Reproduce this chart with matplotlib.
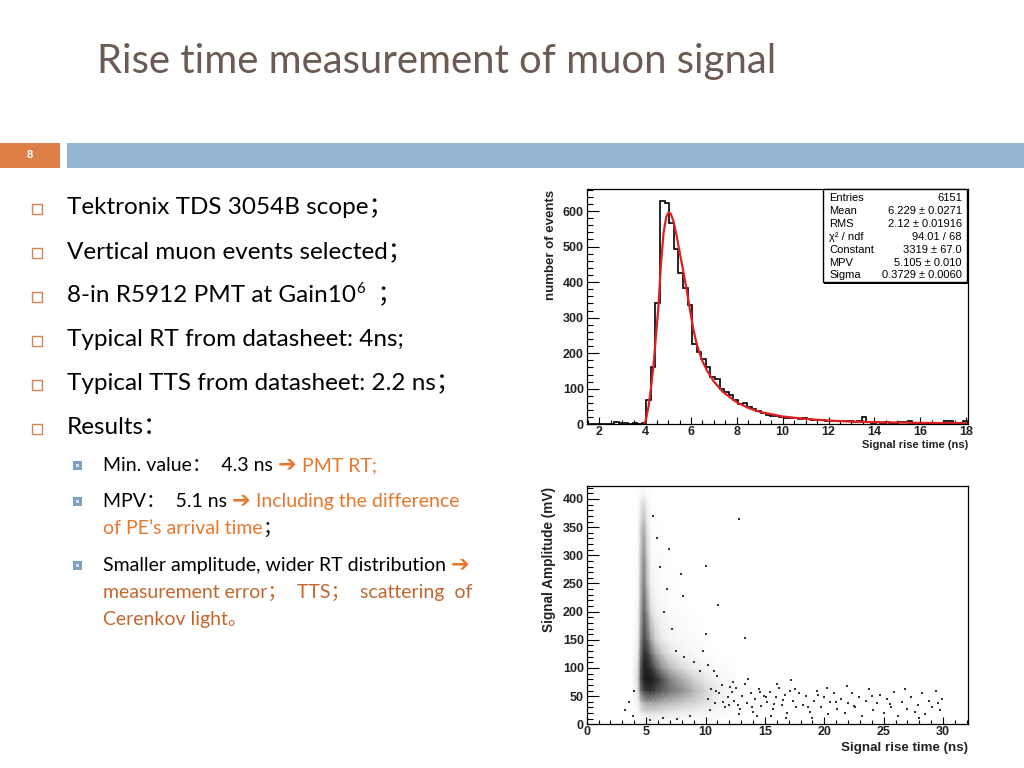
import numpy as np
import matplotlib
matplotlib.use("Agg")
import matplotlib.pyplot as plt
from matplotlib.patches import Rectangle
from matplotlib.ticker import MultipleLocator

# ---------------- data ----------------
# rise time histogram, 0.2 ns bins starting at 1.45 ns
BIN_LO = 1.45
BIN_W = 0.2
HIST_COUNTS = [
    0, 0, 0, 0, 0, 0,
    6, 5, 3, 2, 3, 2, 3,
    68, 162, 340, 628, 624, 565, 492, 425, 384, 336,
    227, 204, 185, 160, 132, 128, 99, 92, 82, 68,
    57, 60, 50, 42, 37, 33, 27, 24, 22, 21,
    19, 19, 17, 15, 19, 14, 12, 12, 11, 10,
    9, 9, 8, 8, 8, 7, 8, 20, 7, 5,
    6, 5, 6, 5, 4, 7, 6, 8, 4, 5,
    4, 3, 5, 4, 4, 10, 9, 3, 4, 8,
]

# Landau fit curve
FIT_X = [3.95, 4.03, 4.15, 4.26, 4.36, 4.48, 4.58, 4.68, 4.80, 4.92, 5.02, 5.12,
         5.24, 5.38, 5.53, 5.68, 5.82, 5.96, 6.10, 6.25, 6.47, 6.68, 7.00, 7.41,
         8.00, 8.50, 9.00, 10.0, 11.0, 12.0, 13.0, 14.0, 15.0, 16.0, 17.0, 18.0]
FIT_Y = [0, 12, 50, 106, 162, 256, 331, 443, 537, 584, 596, 592,
         570, 528, 475, 425, 375, 320, 268, 225, 182, 153, 120, 90,
         62, 46, 35, 22, 15, 10.5, 7.5, 6, 5, 4, 3.5, 3]

STATS = [
    ("Entries", "6151"),
    ("Mean", "6.229 \u00b1 0.0271"),
    ("RMS", "2.12 \u00b1 0.01916"),
    ("\u03c7\u00b2 / ndf", "94.01 / 68"),
    ("Constant", "3319 \u00b1 67.0"),
    ("MPV", "5.105 \u00b1 0.010"),
    ("Sigma", "0.3729 \u00b1 0.0060"),
]

# amplitude vs rise time: point density (0..1) on a coarse node grid
DENS_X = [3.8, 4.3, 4.55, 4.8, 5.1, 5.4, 5.8, 6.3, 7.0, 8.0, 9.0, 10.0, 11.0, 12.5]
DENS_Y = [0, 20, 40, 60, 80, 100, 125, 150, 200, 250, 300, 350, 400, 420]
DENSITY = [
    [0, 0, 0, 0, 0, 0, 0, 0, 0, 0, 0, 0, 0, 0],
    [0, 0.04, 0.12, 0.18, 0.2, 0.2, 0.2, 0.2, 0.16, 0.13, 0.1, 0.08, 0.05, 0],
    [0, 0.1, 0.35, 0.45, 0.5, 0.5, 0.5, 0.45, 0.42, 0.36, 0.3, 0.22, 0.12, 0.03],
    [0, 0.2, 0.65, 0.82, 0.87, 0.87, 0.82, 0.75, 0.65, 0.55, 0.42, 0.28, 0.15, 0.03],
    [0, 0.25, 0.78, 0.92, 0.96, 0.95, 0.9, 0.8, 0.6, 0.45, 0.3, 0.18, 0.08, 0.02],
    [0, 0.22, 0.75, 0.92, 0.93, 0.88, 0.75, 0.55, 0.4, 0.25, 0.15, 0.08, 0.03, 0],
    [0, 0.15, 0.65, 0.88, 0.86, 0.7, 0.5, 0.35, 0.2, 0.1, 0.06, 0.03, 0, 0],
    [0, 0.1, 0.55, 0.8, 0.72, 0.5, 0.3, 0.18, 0.1, 0.05, 0.03, 0, 0, 0],
    [0, 0.06, 0.45, 0.72, 0.52, 0.25, 0.12, 0.06, 0.03, 0.02, 0, 0, 0, 0],
    [0, 0.04, 0.4, 0.62, 0.38, 0.12, 0.05, 0.03, 0.02, 0, 0, 0, 0, 0],
    [0, 0.03, 0.35, 0.55, 0.3, 0.07, 0.03, 0.02, 0, 0, 0, 0, 0, 0],
    [0, 0.02, 0.3, 0.45, 0.2, 0.04, 0.02, 0, 0, 0, 0, 0, 0, 0],
    [0, 0, 0.1, 0.18, 0.06, 0, 0, 0, 0, 0, 0, 0, 0, 0],
    [0, 0, 0, 0, 0, 0, 0, 0, 0, 0, 0, 0, 0, 0],
]

# individual sparse events (tail and outliers)
SPARSE_X = [10.2, 10.5, 10.8, 11.1, 11.4, 11.6, 11.9, 12.2, 10.4, 11.0, 12.0, 10.7,
            12.4, 12.6, 12.9, 13.1, 13.3, 13.5, 13.8, 14.0, 14.2, 14.5, 14.7, 14.9, 12.8, 13.6, 14.3, 12.3,
            15.2, 15.4, 15.7, 15.9, 16.2, 16.4, 16.7, 16.9, 17.2, 17.4, 17.6, 17.9, 15.5, 16.0, 16.8, 17.1,
            18.2, 18.5, 18.8, 19.1, 19.4, 19.7, 20.0, 20.3, 20.5, 20.8, 21.1, 19.0, 20.2,
            21.4, 21.7, 22.0, 22.3, 22.6, 22.9, 23.2, 23.5, 23.8, 24.1, 21.9,
            24.4, 24.7, 25.0, 25.3, 25.6, 25.9, 26.2, 26.5, 26.8, 27.0,
            27.3, 27.6, 27.9, 28.2, 28.5, 28.8, 29.1, 29.4, 29.7, 29.9, 28.0, 29.6,
            3.2, 3.6, 3.9, 4.0, 6.5, 7.2, 6.8, 5.9, 6.2, 5.6, 7.5, 8.2, 9.0, 9.5,
            8.7, 7.6, 6.4, 5.3, 9.8, 10.2, 12.85, 10.04, 7.93, 6.95, 13.33, 10.04, 8.13, 11.02,
            10.9, 11.5, 12.1, 12.7, 13.9, 14.6, 15.1, 15.8, 16.5, 17.5, 18.6, 19.5, 21.0, 22.5, 24.0, 25.5]
SPARSE_Y = [45, 62, 38, 55, 70, 30, 48, 58, 25, 85, 35, 95,
            42, 65, 28, 50, 72, 38, 55, 22, 45, 62, 33, 50, 18, 80, 15, 75,
            40, 58, 27, 48, 65, 35, 52, 20, 78, 42, 30, 55, 15, 72, 12, 60,
            35, 50, 22, 42, 60, 30, 48, 18, 40, 55, 28, 12, 65,
            45, 20, 38, 55, 30, 48, 15, 42, 62, 25, 68,
            38, 52, 20, 45, 30, 58, 15, 40, 62, 28,
            48, 22, 35, 55, 18, 42, 30, 60, 25, 45, 12, 38,
            25, 40, 15, 60, 200, 170, 240, 330, 280, 370, 130, 120, 110, 95,
            15, 10, 12, 8, 130, 105, 364, 281, 267, 312, 154, 160, 227, 212,
            60, 40, 66, 35, 30, 57, 48, 36, 44, 62, 30, 52, 40, 33, 50, 36]

# ---------------- slide text ----------------
TITLE = "Rise time measurement of muon signal"
SLIDE_NO = "8"
MAIN_BULLETS = [
    [("Tektronix TDS 3054B scope\uff1b", "k", 1.0, 0)],
    [("Vertical muon events selected\uff1b", "k", 1.0, 0)],
    [("8-in R5912 PMT at Gain10", "k", 1.0, 0), ("6", "k", 0.62, 9), ("  \uff1b", "k", 1.0, 0)],
    [("Typical RT from datasheet: 4ns;", "k", 1.0, 0)],
    [("Typical TTS from datasheet: 2.2 ns\uff1b", "k", 1.0, 0)],
    [("Results\uff1a", "k", 1.0, 0)],
]
ORANGE = "#E8782C"
BROWN = "#C4672E"
ARROW = "\u2794"
SUB_LINES = [
    (True, [("Min. value\uff1a  4.3 ns ", "k", 1.0, 0), (ARROW, ORANGE, 1.15, 0), (" PMT RT;", ORANGE, 1.0, 0)]),
    (True, [("MPV\uff1a  5.1 ns ", "k", 1.0, 0), (ARROW, ORANGE, 1.15, 0), (" Including the difference", ORANGE, 1.0, 0)]),
    (False, [("of PE\u2019s arrival time", ORANGE, 1.0, 0), ("\uff1b", "k", 1.0, 0)]),
    (True, [("Smaller amplitude, wider RT distribution ", "k", 1.0, 0), (ARROW, ORANGE, 1.15, 0)]),
    (False, [("measurement error\uff1b  TTS\uff1b  scattering  of", BROWN, 1.0, 0)]),
    (False, [("Cerenkov light\u3002", BROWN, 1.0, 0)]),
]

W, H = 1024, 768
SLIDE_FONT = ["Lato", "Noto Sans CJK SC", "DejaVu Sans"]
ROOT_FONT = "Liberation Sans"

fig = plt.figure(figsize=(W / 100, H / 100), dpi=100)
fig.patch.set_facecolor("white")
renderer = fig.canvas.get_renderer()


def fx(x):
    return x / W


def fy(y):
    return 1 - y / H


def box(x0, y0, x1, y1, **kw):
    fig.add_artist(Rectangle((fx(x0), fy(y1)), (x1 - x0) / W, (y1 - y0) / H,
                             transform=fig.transFigure, **kw))


def chain(x, y, pieces, size):
    for txt, color, scale, dy in pieces:
        weight = "bold" if txt == ARROW else "normal"
        t = fig.text(fx(x), fy(y - dy), txt, color=color, fontsize=size * scale,
                     family=SLIDE_FONT, va="baseline", ha="left", weight=weight)
        x += t.get_window_extent(renderer).width


# title and header bars
fig.text(fx(97), fy(62), TITLE, fontsize=28.8, color="#6B5B53", family=SLIDE_FONT, va="center")
box(0, 143, 60, 168, facecolor="#DD8047", edgecolor="none")
box(67, 143, 1024, 168, facecolor="#94B6D2", edgecolor="none")
fig.text(fx(30), fy(155.5), SLIDE_NO, fontsize=8, color="white", weight="bold",
         family=ROOT_FONT, ha="center", va="center")

# main bullets
for i, pieces in enumerate(MAIN_BULLETS):
    base = 214 + 44 * i
    box(32, base - 10, 42, base, facecolor="none", edgecolor="#D9824C", linewidth=1.0)
    chain(67, base, pieces, 17.5)

# sub bullets
sub_base = [471, 507, 534, 571, 598, 625]
for base, (marker, pieces) in zip(sub_base, SUB_LINES):
    if marker:
        box(73, base - 10, 82, base - 1, facecolor="#7DA1C4", edgecolor="none")
        box(76, base - 7, 79, base - 4, facecolor="#D5E2EE", edgecolor="none")
    chain(103, base, pieces, 14)


def root_style(ax, xmaj, xmin_, ymaj, ymin_, lab_size):
    ax.xaxis.set_major_locator(MultipleLocator(xmaj))
    ax.xaxis.set_minor_locator(MultipleLocator(xmin_))
    ax.yaxis.set_major_locator(MultipleLocator(ymaj))
    ax.yaxis.set_minor_locator(MultipleLocator(ymin_))
    ax.tick_params(which="both", direction="in", top=False, right=False, width=0.8,
                   labelsize=lab_size, labelcolor="#222222")
    ax.tick_params(axis="y", which="major", length=8.3, pad=2)
    ax.tick_params(axis="y", which="minor", length=4.2)
    ax.tick_params(axis="x", which="major", length=5.2, pad=1.5)
    ax.tick_params(axis="x", which="minor", length=2.6)
    for lab in ax.get_xticklabels() + ax.get_yticklabels():
        lab.set_family(ROOT_FONT)
        lab.set_weight("bold")
    for s in ax.spines.values():
        s.set_linewidth(0.9)


# ---------------- histogram ----------------
ax1 = fig.add_axes([fx(586.7), fy(424.3), 381 / W, 235.3 / H])
edges = BIN_LO + BIN_W * np.arange(len(HIST_COUNTS) + 1)
ax1.stairs(HIST_COUNTS, edges, color="black", linewidth=1.2)
ax1.plot(FIT_X, FIT_Y, color="#E02020", linewidth=1.6)
ax1.set_xlim(1.45, 18.07)
ax1.set_ylim(0, 662)
root_style(ax1, 2, 0.5, 100, 20, 9)

fig.text(fx(551), fy(190), "number of events", rotation=90, fontsize=9.5, weight="bold",
         family=ROOT_FONT, color="#222222", ha="center", va="top")
fig.text(fx(968), fy(445), "Signal rise time (ns)", fontsize=8, weight="bold",
         family=ROOT_FONT, color="#222222", ha="right", va="center")

# stats box
box(823.5, 190, 969, 284.5, facecolor="black", edgecolor="none")
box(822.5, 189, 966.5, 282, facecolor="white", edgecolor="black", linewidth=1.0)
for i, (name, val) in enumerate(STATS):
    yy = 198 + 12.9 * i
    fig.text(fx(829), fy(yy), name, fontsize=8, family=ROOT_FONT, va="center", ha="left")
    fig.text(fx(962), fy(yy), val, fontsize=8, family=ROOT_FONT, va="center", ha="right")

# ---------------- scatter ----------------
ax2 = fig.add_axes([fx(586.7), fy(724.3), 381 / W, 238.6 / H])
ax2.pcolormesh(DENS_X, DENS_Y, np.array(DENSITY), shading="gouraud", cmap="Greys",
               vmin=0, vmax=1.05)
ax2.scatter(SPARSE_X, SPARSE_Y, s=0.8, c="#333333", marker="s", linewidths=0)
ax2.set_xlim(0, 32.07)
ax2.set_ylim(0, 423.6)
root_style(ax2, 5, 1, 50, 10, 9)

fig.text(fx(549), fy(487), "Signal Amplitude (mV)", rotation=90, fontsize=9.8, weight="bold",
         family=ROOT_FONT, color="#222222", ha="center", va="top")
fig.text(fx(968), fy(748), "Signal rise time (ns)", fontsize=9.6, weight="bold",
         family=ROOT_FONT, color="#222222", ha="right", va="center")

fig.savefig("out.png", dpi=100)
